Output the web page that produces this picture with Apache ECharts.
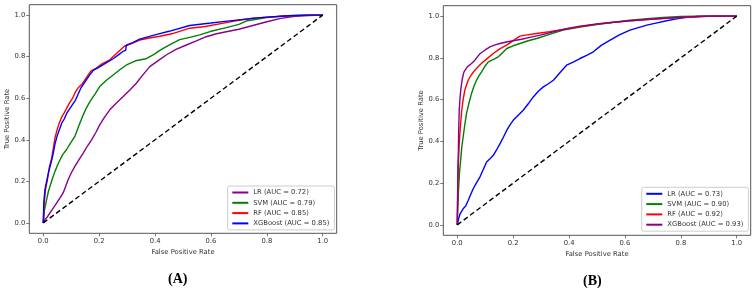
<!DOCTYPE html>
<html>
<head>
<meta charset="utf-8">
<script src="https://cdn.jsdelivr.net/npm/echarts@6/dist/echarts.min.js"></script>
<style>
  html, body { margin: 0; padding: 0; background: #fff; }
  #chart { width: 755px; height: 290px; }
</style>
</head>
<body>
<div id="chart"></div>
<script>
// tick values shared by both panels
const TICKS = [0, 0.2, 0.4, 0.6, 0.8, 1.0]
const DIAG = [[0, 0], [1, 1]]

// panel (A) ROC curves [fpr, tpr]
const A_LR = [[0,0],[0.006,0.016],[0.015,0.03],[0.024,0.048],[0.035,0.07],[0.048,0.096],[0.06,0.12],[0.071,0.144],[0.08,0.175],[0.089,0.208],[0.1,0.24],[0.113,0.272],[0.128,0.305],[0.143,0.336],[0.158,0.37],[0.173,0.4],[0.188,0.435],[0.202,0.472],[0.22,0.51],[0.238,0.544],[0.26,0.575],[0.286,0.608],[0.31,0.64],[0.333,0.672],[0.355,0.71],[0.381,0.752],[0.41,0.78],[0.44,0.808],[0.475,0.835],[0.512,0.856],[0.55,0.877],[0.583,0.896],[0.62,0.91],[0.655,0.92],[0.7,0.932],[0.75,0.95],[0.8,0.968],[0.85,0.984],[0.9,0.994],[0.95,0.998],[1,1]]
const A_SVM = [[0,0],[0.004,0.06],[0.012,0.112],[0.018,0.15],[0.024,0.176],[0.033,0.215],[0.042,0.248],[0.05,0.275],[0.06,0.304],[0.07,0.33],[0.083,0.352],[0.098,0.385],[0.113,0.416],[0.128,0.47],[0.143,0.52],[0.155,0.555],[0.167,0.584],[0.185,0.62],[0.202,0.656],[0.225,0.685],[0.25,0.712],[0.275,0.738],[0.298,0.76],[0.33,0.78],[0.368,0.79],[0.395,0.81],[0.417,0.83],[0.45,0.855],[0.488,0.882],[0.524,0.893],[0.56,0.905],[0.6,0.922],[0.655,0.94],[0.7,0.955],[0.73,0.973],[0.8,0.988],[0.87,0.997],[0.95,1],[1,1]]
const A_RF = [[0,0],[0.003,0.09],[0.008,0.16],[0.015,0.21],[0.022,0.27],[0.03,0.31],[0.036,0.36],[0.042,0.41],[0.05,0.45],[0.057,0.48],[0.066,0.51],[0.075,0.53],[0.083,0.55],[0.095,0.58],[0.105,0.6],[0.115,0.63],[0.125,0.65],[0.14,0.67],[0.155,0.7],[0.17,0.73],[0.19,0.745],[0.21,0.765],[0.238,0.785],[0.262,0.815],[0.29,0.85],[0.32,0.865],[0.345,0.88],[0.38,0.89],[0.417,0.898],[0.46,0.91],[0.524,0.937],[0.58,0.945],[0.64,0.96],[0.7,0.975],[0.75,0.985],[0.8,0.99],[0.88,0.997],[0.95,1],[1,1]]
const A_XGB = [[0,0],[0.002,0.1],[0.006,0.16],[0.012,0.2],[0.02,0.25],[0.028,0.29],[0.035,0.33],[0.042,0.38],[0.05,0.42],[0.058,0.45],[0.066,0.48],[0.075,0.5],[0.085,0.53],[0.095,0.55],[0.105,0.57],[0.115,0.59],[0.125,0.62],[0.135,0.65],[0.15,0.68],[0.165,0.71],[0.18,0.735],[0.2,0.75],[0.225,0.77],[0.25,0.79],[0.27,0.81],[0.285,0.825],[0.295,0.83],[0.297,0.855],[0.32,0.868],[0.345,0.884],[0.4,0.905],[0.45,0.922],[0.524,0.95],[0.6,0.962],[0.65,0.97],[0.7,0.977],[0.75,0.984],[0.8,0.99],[0.88,0.997],[0.95,1],[1,1]]

// panel (B) ROC curves [fpr, tpr]
const B_LR = [[0,0],[0.005,0.03],[0.01,0.053],[0.021,0.077],[0.03,0.09],[0.039,0.117],[0.048,0.145],[0.057,0.173],[0.068,0.2],[0.081,0.229],[0.093,0.265],[0.105,0.301],[0.118,0.318],[0.129,0.333],[0.141,0.36],[0.153,0.389],[0.165,0.42],[0.177,0.453],[0.188,0.478],[0.2,0.501],[0.218,0.525],[0.236,0.549],[0.254,0.58],[0.272,0.613],[0.29,0.64],[0.308,0.661],[0.326,0.676],[0.344,0.693],[0.368,0.73],[0.391,0.765],[0.415,0.78],[0.439,0.797],[0.463,0.812],[0.487,0.829],[0.515,0.86],[0.547,0.885],[0.58,0.91],[0.618,0.933],[0.648,0.945],[0.678,0.957],[0.715,0.968],[0.749,0.978],[0.785,0.987],[0.821,0.994],[0.86,0.998],[0.893,1],[1,1]]
const B_SVM = [[0,0],[0.001,0.053],[0.005,0.181],[0.008,0.25],[0.012,0.309],[0.016,0.37],[0.021,0.421],[0.027,0.48],[0.033,0.533],[0.042,0.585],[0.051,0.629],[0.06,0.665],[0.069,0.693],[0.078,0.715],[0.087,0.733],[0.099,0.76],[0.111,0.781],[0.13,0.793],[0.147,0.805],[0.162,0.825],[0.177,0.845],[0.2,0.858],[0.224,0.869],[0.254,0.882],[0.284,0.893],[0.33,0.913],[0.379,0.933],[0.44,0.948],[0.499,0.96],[0.56,0.971],[0.618,0.981],[0.68,0.988],[0.737,0.994],[0.8,0.998],[0.857,1],[1,1]]
const B_RF = [[0,0],[0.002,0.197],[0.004,0.3],[0.007,0.389],[0.011,0.47],[0.016,0.549],[0.021,0.6],[0.027,0.645],[0.033,0.67],[0.039,0.693],[0.05,0.718],[0.063,0.741],[0.078,0.762],[0.093,0.781],[0.11,0.8],[0.129,0.821],[0.152,0.843],[0.177,0.861],[0.2,0.883],[0.224,0.904],[0.25,0.91],[0.284,0.917],[0.33,0.926],[0.379,0.936],[0.44,0.95],[0.499,0.962],[0.56,0.97],[0.618,0.978],[0.68,0.984],[0.737,0.989],[0.8,0.993],[0.857,0.997],[0.92,1],[1,1]]
const B_XGB = [[0,0],[0.001,0.117],[0.002,0.25],[0.004,0.357],[0.005,0.45],[0.007,0.55],[0.01,0.61],[0.013,0.653],[0.018,0.7],[0.024,0.733],[0.036,0.757],[0.05,0.772],[0.063,0.789],[0.072,0.805],[0.081,0.82],[0.1,0.838],[0.117,0.853],[0.135,0.862],[0.153,0.869],[0.175,0.876],[0.2,0.882],[0.23,0.889],[0.26,0.898],[0.3,0.91],[0.344,0.925],[0.39,0.94],[0.439,0.952],[0.5,0.962],[0.558,0.971],[0.62,0.978],[0.678,0.984],[0.74,0.99],[0.797,0.994],[0.86,0.998],[0.916,1],[1,1]]

const A_NAMES = ['LR (AUC = 0.72)', 'SVM (AUC = 0.79)', 'RF (AUC = 0.85)', 'XGBoost (AUC = 0.85)']
const B_NAMES = ['LR (AUC = 0.73)', 'SVM (AUC = 0.90)', 'RF (AUC = 0.92)', 'XGBoost (AUC = 0.93)']
const A_COLORS = ['#8b008b', '#008000', '#ff0000', '#0000ff']
const B_COLORS = ['#0000ff', '#008000', '#ff0000', '#8b008b']

const FONT = 'DejaVu Sans'

function axis(gridIndex, name, nameGap) {
  return {
    type: 'value',
    gridIndex: gridIndex,
    min: -0.05,
    max: 1.05,
    name: name,
    nameLocation: 'middle',
    nameGap: nameGap,
    nameTextStyle: { fontFamily: FONT, fontSize: 6.8, color: '#333' },
    axisLine: { show: false, onZero: false },
    splitLine: { show: false },
    axisTick: { show: true, length: 3, customValues: TICKS, lineStyle: { color: '#555', width: 0.8 } },
    axisLabel: {
      customValues: TICKS,
      fontFamily: FONT,
      fontSize: 6.8,
      color: '#333',
      margin: 4,
      formatter: v => v.toFixed(1)
    }
  }
}

function curve(name, data, color, idx) {
  return {
    name: name,
    type: 'line',
    xAxisIndex: idx,
    yAxisIndex: idx,
    data: data,
    showSymbol: false,
    symbol: 'none',
    silent: true,
    lineStyle: { color: color, width: 1.4 },
    itemStyle: { color: color }
  }
}

function diagonal(idx) {
  return {
    type: 'line',
    xAxisIndex: idx,
    yAxisIndex: idx,
    data: DIAG,
    symbol: 'none',
    silent: true,
    lineStyle: { color: '#000', width: 1.4, type: [5, 3] }
  }
}

function legend(names, left, top) {
  return {
    data: names,
    orient: 'vertical',
    left: left,
    top: top,
    icon: 'rect',
    itemWidth: 16,
    itemHeight: 2,
    itemGap: 1.3,
    padding: [2, 5, 2, 4.6],
    borderColor: '#cccccc',
    borderWidth: 1,
    borderRadius: 2,
    backgroundColor: 'rgba(255,255,255,0.85)',
    selectedMode: false,
    textStyle: { fontFamily: FONT, fontSize: 6.8, lineHeight: 9, color: '#333' }
  }
}

const chart = echarts.init(document.getElementById('chart'), null, { renderer: 'canvas' })

const series = []
const aData = [A_LR, A_SVM, A_RF, A_XGB]
const bData = [B_LR, B_SVM, B_RF, B_XGB]
aData.forEach((d, i) => series.push(curve(A_NAMES[i], d, A_COLORS[i], 0)))
series.push(diagonal(0))
bData.forEach((d, i) => series.push(curve(B_NAMES[i], d, B_COLORS[i], 1)))
series.push(diagonal(1))

chart.setOption({
  animation: false,
  backgroundColor: '#fff',
  grid: [
    { left: 29.3, top: 4.7, width: 307.4, height: 228.6, show: true, borderColor: '#555', borderWidth: 1, containLabel: false, outerBoundsMode: 'none' },
    { left: 443.3, top: 5.7, width: 307.4, height: 229.6, show: true, borderColor: '#555', borderWidth: 1, containLabel: false, outerBoundsMode: 'none' }
  ],
  xAxis: [axis(0, 'False Positive Rate', 13), axis(1, 'False Positive Rate', 13)],
  yAxis: [axis(0, 'True Positive Rate', 19), axis(1, 'True Positive Rate', 19)],
  legend: [legend(A_NAMES, 227.7, 186), legend(B_NAMES, 641.7, 187.3)],
  graphic: [
    { type: 'text', x: 177.7, y: 279.3, style: { text: '(A)', font: 'bold 14px "Liberation Serif"', fill: '#000', textAlign: 'center', textVerticalAlign: 'middle' } },
    { type: 'text', x: 592.3, y: 281, style: { text: '(B)', font: 'bold 14px "Liberation Serif"', fill: '#000', textAlign: 'center', textVerticalAlign: 'middle' } }
  ],
  series: series
})
</script>
</body>
</html>
